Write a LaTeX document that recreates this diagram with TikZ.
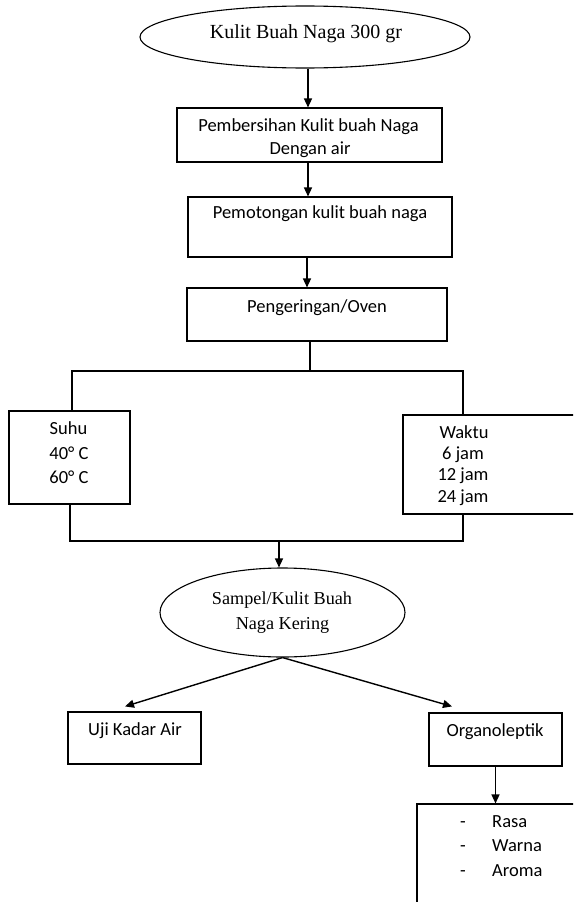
\documentclass[tikz,border=0pt]{standalone}
\usepackage{fontspec}
\setmainfont{Liberation Serif}
\newfontfamily\calib{Carlito}
\usetikzlibrary{shapes.geometric,arrows.meta,fit}
\begin{document}
\begin{tikzpicture}[x=1pt,y=-1pt,
  box/.style={draw,line width=1.1pt,inner sep=0pt,rectangle},
  ell/.style={draw,line width=1.1pt,inner sep=0pt,ellipse},
  txt/.style={anchor=base,inner sep=0pt,font=\calib\fontsize{18.5}{22}\selectfont},
  stxt/.style={anchor=base,inner sep=0pt,font=\fontsize{18.2}{22}\selectfont},
  arr/.style={-{Triangle[length=9pt,width=8pt]},line width=1.4pt},
  ln/.style={line width=1.1pt}]
\useasboundingbox (0,0) rectangle (573,902);
\clip (0,0) rectangle (573,902);

% shapes
\node[ell,minimum width=330pt,minimum height=62pt] (e1) at (305,37) {};
\node[box,fit={(177,108) (442,162)}] (b1) {};
\node[box,fit={(188,197) (452,257)}] (b2) {};
\node[box,fit={(187,288) (447,341)}] (b3) {};
\node[box,fit={(9,411) (130,504)}] (suhu) {};
\node[box,fit={(403,415) (610,514)}] (waktu) {};
\node[ell,minimum width=245pt,minimum height=89pt] (e2) at (282.5,612.5) {};
\node[box,fit={(68,712) (201,764)}] (uji) {};
\node[box,fit={(429,713) (562,766)}] (org) {};
\node[box,fit={(417,804) (620,930)}] (fin) {};

% texts
\node[stxt,font=\fontsize{20}{24}\selectfont] (t1) at (306,38) {Kulit Buah Naga 300 gr};
\node[txt] (t2a) at (308.5,131.5) {Pembersihan Kulit buah Naga};
\node[txt] (t2b) at (310,154) {Dengan air};
\node[txt] (t3) at (320,218) {Pemotongan kulit buah naga};
\node[txt] (t4) at (317,312) {Pengeringan/Oven};
\node[txt] (t5a) at (68.5,434.5) {Suhu};
\node[txt] (t5b) at (69,459.5) {40° C};
\node[txt] (t5c) at (69,483.5) {60° C};
\node[txt] (t6a) at (464,438.5) {Waktu};
\node[txt] (t6b) at (463,459.5) {6 jam};
\node[txt] (t6c) at (463,480.5) {12 jam};
\node[txt] (t6d) at (463,502) {24 jam};
\node[stxt] (t7a) at (282,604.5) {Sampel/Kulit Buah};
\node[stxt] (t7b) at (282.5,629) {Naga Kering};
\node[txt] (t8) at (135,735) {Uji Kadar Air};
\node[txt] (t9) at (495,736) {Organoleptik};
\node[txt] (d1) at (463,827) {-};
\node[txt] (d2) at (463,851) {-};
\node[txt] (d3) at (463,876) {-};
\node[txt,anchor=base west] (r1) at (492,827) {Rasa};
\node[txt,anchor=base west] (r2) at (492,851) {Warna};
\node[txt,anchor=base west] (r3) at (492,876) {Aroma};

% connectors
\coordinate (bus1) at (72,371);
\coordinate (bus2) at (463,371);
\coordinate (j1) at (70,541);
\coordinate (j2) at (463,541);
\coordinate (j3) at (279,541);
\draw[arr] ([xshift=3pt]e1.south) -- ([xshift=3pt]e1.south |- b1.north);
\draw[arr] ([xshift=-1.5pt]b1.south) -- ([xshift=-1.5pt]b1.south |- b2.north);
\draw[arr] ([xshift=-13pt]b2.south) -- ([xshift=-13pt]b2.south |- b3.north);
\draw[ln] ([xshift=-7pt]b3.south) -- ([xshift=-7pt]b3.south |- bus1);
\draw[ln] (suhu.north -| bus1) -- (bus1) -- (bus2) -- (waktu.north -| bus2);
\draw[ln] (suhu.south -| j1) -- (j1) -- (j2) -- (waktu.south -| j2);
\draw[arr] (j3) -- (j3 |- e2.north);
\draw[arr] (e2.south) -- ([shift={(-9.5,-5)}]uji.north);
\draw[arr] (e2.south) -- ([shift={(-43.5,-6)}]org.north);
\draw[arr] (org.south) -- (org.south |- fin.north);
\end{tikzpicture}
\end{document}
